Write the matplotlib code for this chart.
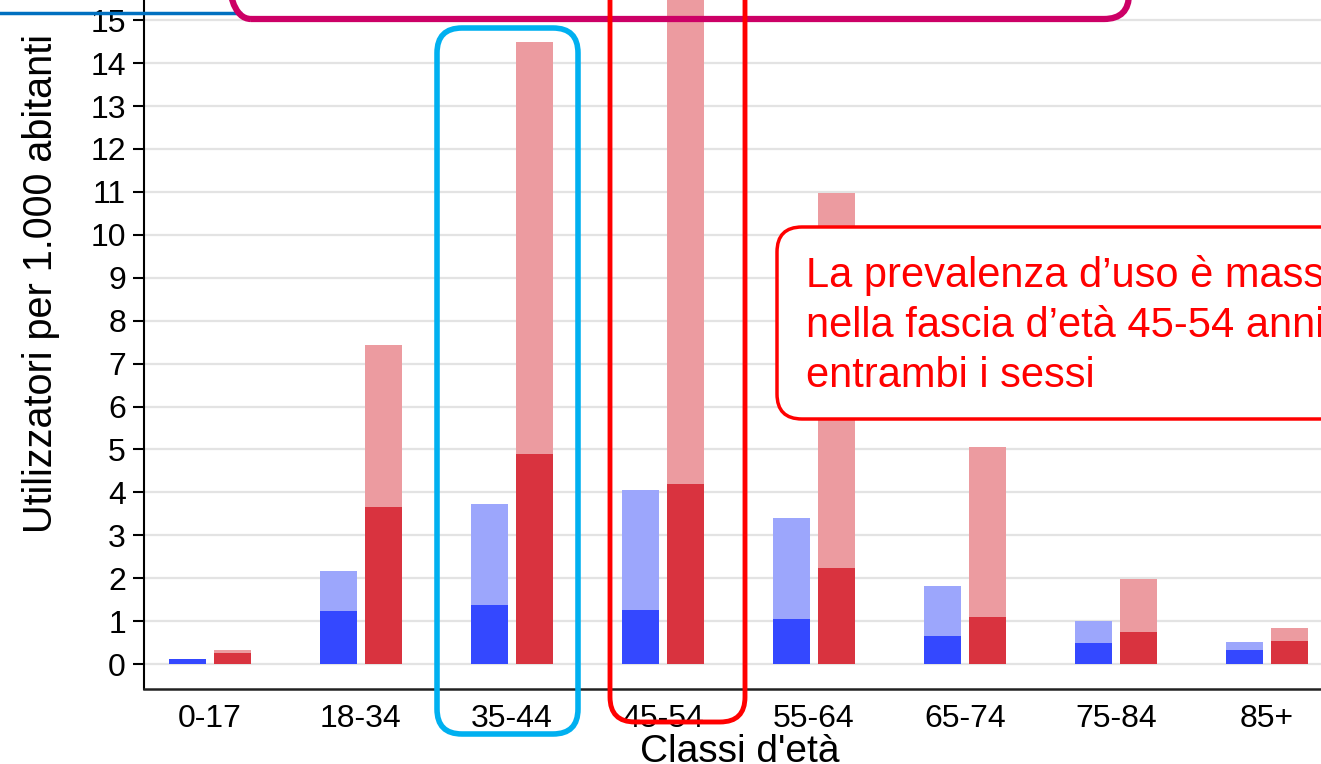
import matplotlib
matplotlib.use("Agg")
import matplotlib.pyplot as plt
import numpy as np
from matplotlib.patches import FancyBboxPatch
from matplotlib.transforms import IdentityTransform
from matplotlib.lines import Line2D

plt.rcParams['font.family'] = ['Liberation Sans', 'DejaVu Sans']

categories = ["0-17", "18-34", "35-44", "45-54", "55-64", "65-74", "75-84", "85+"]
male_dark = [0.11, 1.23, 1.37, 1.26, 1.05, 0.65, 0.49, 0.32]
male_total = [0.12, 2.17, 3.73, 4.05, 3.40, 1.82, 1.00, 0.51]
female_dark = [0.26, 3.66, 4.89, 4.19, 2.24, 1.09, 0.75, 0.54]
female_total = [0.33, 7.43, 14.49, 16.50, 10.97, 5.05, 1.98, 0.84]
yticks = list(range(0, 16))

W, H = 1321, 764
fig = plt.figure(figsize=(W / 100, H / 100), dpi=100)
ax = fig.add_axes([144 / W, 75 / H, 1 - 144 / W, 1 - 75 / H])

x = np.arange(len(categories))
bw = 0.245
off = 0.149
c_dark_b, c_light_b = "#3448FF", "#9CA6FC"
c_dark_r, c_light_r = "#D9333F", "#EC9BA0"

ax.bar(x - off, male_total, bw, color=c_light_b, zorder=2)
ax.bar(x - off, male_dark, bw, color=c_dark_b, zorder=3)
ax.bar(x + off, female_total, bw, color=c_light_r, zorder=2)
ax.bar(x + off, female_dark, bw, color=c_dark_r, zorder=3)

ax.set_xlim(-0.437, 7.358)
ax.set_ylim(-0.58, 15.47)
ax.set_yticks(yticks)
ax.set_xticks(x)
ax.set_xticklabels(categories)
ax.tick_params(axis='y', labelsize=23, length=8, width=1.5, pad=5)
ax.tick_params(axis='x', labelsize=23, length=0, pad=11)
ax.yaxis.grid(True, color="#E3E3E3", lw=1.6, zorder=0)
ax.set_axisbelow(True)
for s in ["top", "right"]:
    ax.spines[s].set_visible(False)
ax.spines["left"].set_linewidth(1.5)
ax.spines["bottom"].set_linewidth(1.8)
ax.spines["bottom"].set_color("#222222")
ax.set_ylabel("Utilizzatori per 1.000 abitanti", fontsize=28.5, labelpad=22)
ax.yaxis.label.set_y(0.588)
ax.set_xlabel("Classi d'età", fontsize=28, labelpad=0)
ax.xaxis.label.set_x(0.506)

fig.canvas.draw()


def rbox(x0, y0, x1, y1, color, lw, r=25, fc="none", z=10):
    # coordinates in image pixels (origin top-left)
    p = FancyBboxPatch((x0, H - y1), x1 - x0, y1 - y0,
                       boxstyle=f"round,pad=0,rounding_size={r}",
                       transform=IdentityTransform(), fc=fc, ec=color,
                       lw=lw, zorder=z, clip_on=False)
    fig.patches.append(p)
    p.set_figure(fig)


# blue line at top left
fig.lines.append(Line2D([0, 240 / W], [1 - 13 / H, 1 - 13 / H], color="#0070C0",
                        lw=2.5, transform=fig.transFigure, figure=fig))
# magenta box (cropped)
rbox(226, -80, 1129, 19, "#CC0066", 4.5)
# cyan box around 35-44
rbox(437, 28, 578, 734, "#00B0F0", 4)
# red box around 45-54
rbox(610, -60, 745, 722, "#FF0000", 3.5)
# red text box
rbox(777, 227, 1400, 419, "#FF0000", 2.5, fc="white", z=11)
fig.text(806 / W, 1 - 255 / H,
         "La prevalenza d\u2019uso è massima\nnella fascia d\u2019età 45-54 anni in\nentrambi i sessi",
         color="#FF0000", fontsize=30, va="top", ha="left", linespacing=1.32, zorder=12)

fig.savefig("out.png", dpi=100)
